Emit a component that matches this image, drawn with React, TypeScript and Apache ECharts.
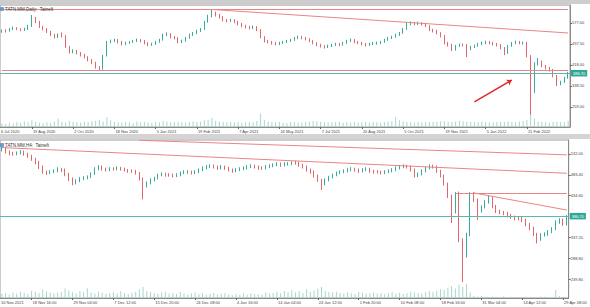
import React, { useEffect, useRef } from "react";
import * as echarts from "echarts";

const FONT = "'Liberation Sans', Arial, sans-serif";
const BULL = "#35ad9c";
const BEAR = "#e2676a";
const LINE_RED = "#e98585";
const CUR = "#5bb8ac";
const VOL = "#a3d8cf";

// ---------- Top panel (Daily) ----------
const topTitle = "TATN.MM,Daily:  Tatneft";
const topTickLabels = ["19 Aug 2020", "2 Oct 2020", "18 Nov 2020", "5 Jan 2021", "19 Feb 2021", "7 Apr 2021", "24 May 2021", "7 Jul 2021", "20 Aug 2021", "5 Oct 2021", "19 Nov 2021", "5 Jan 2022", "21 Feb 2022"];
const topFirstLabel = "6 Jul 2020";
const topPriceTicks = [259, 338.5, 418, 497.5, 577];
// [open, close, low, high]
const topCandles = [
  [545,547,540,552],[548,547,541,553],[547,554,544,558],[554,558,550,563],[558,554,550,561],
  [554,551,546,557],[551,554,547,559],[554,566,551,570],[566,596,562,607],[596,581,576,600],
  [581,562,558,585],[562,554,549,566],[554,543,539,558],[543,532,527,547],[532,524,518,536],
  [524,532,520,537],[532,528,522,541],[528,486,482,531],[486,467,461,490],[467,471,462,477],
  [471,463,458,475],[463,456,450,467],[456,448,443,460],[448,437,432,451],[437,426,421,440],
  [426,410,404,430],[410,403,397,414],[403,452,400,456],[452,505,450,509],[505,509,500,514],
  [509,513,505,518],[513,505,500,516],[505,497,492,509],[497,501,493,506],[501,505,497,509],
  [505,509,501,513],[509,513,505,518],[513,509,504,516],[509,501,496,512],[501,494,489,504],
  [494,497,490,502],[497,505,494,509],[505,513,502,517],[513,532,510,536],[532,535,527,541],
  [535,524,519,538],[524,520,515,528],[520,505,500,523],[505,509,501,514],[509,520,506,524],
  [520,532,517,536],[532,539,528,543],[539,547,535,551],[547,554,543,558],[554,581,551,585],
  [581,603,578,608],[603,615,598,628],[615,607,601,620],[607,600,594,611],[600,588,583,603],
  [588,585,579,592],[585,588,581,593],[588,581,576,591],[581,573,568,585],[573,566,561,577],
  [566,562,556,570],[562,558,552,566],[558,562,554,567],[562,551,546,565],[551,524,519,554],
  [524,509,503,527],[509,505,500,513],[505,501,495,509],[501,497,492,505],[497,501,493,506],
  [501,505,497,509],[505,509,501,513],[509,513,505,517],[513,520,509,524],[520,524,516,529],
  [524,520,515,528],[520,516,511,524],[516,509,504,519],[509,501,496,512],[501,494,489,504],
  [494,490,484,498],[490,486,480,493],[486,490,482,495],[490,494,486,498],[494,497,490,502],
  [497,494,489,501],[494,501,491,505],[501,509,498,513],[509,513,505,518],[513,505,500,516],
  [505,501,496,509],[501,497,492,505],[497,494,488,501],[494,497,490,502],[497,501,493,505],
  [500,501,495,506],[501,505,497,509],[505,513,502,517],[513,520,509,524],[520,524,516,528],
  [524,532,521,536],[532,539,528,543],[539,554,536,558],[554,573,551,578],[573,577,568,583],
  [577,573,568,581],[573,577,569,582],[577,573,567,580],[573,566,561,577],[566,551,546,569],
  [551,547,541,555],[547,539,534,551],[539,528,522,542],[528,501,496,531],[501,494,488,505],
  [494,475,470,498],[475,490,472,494],[490,494,486,499],[495,494,488,499],[494,478,448,497],
  [478,486,474,490],[486,490,482,495],[490,497,487,502],[497,501,493,506],[501,505,497,510],
  [505,501,496,509],[501,497,492,505],[497,494,488,501],[494,482,477,497],[482,463,455,486],
  [463,490,460,494],[490,501,487,505],[501,505,497,510],[505,501,496,509],[500,501,495,506],
  [501,452,447,505],[452,342,229,455],[330,422,312,428],[422,429,416,444],[429,414,409,434],
  [414,407,401,418],[407,399,393,411],[399,376,371,403],[376,346,338,380],[346,353,341,358],
  [353,369,350,373],[369,388,366,392],
];
const topVolumes = [
  30,25,35,28,40,32,45,38,55,42, 35,30,38,33,45,70,40,36,50,42,
  38,35,44,40,48,52,60,45,80,55, 42,38,34,40,36,30,45,38,42,35,
  33,40,38,52,45,36,40,44,38,35, 42,48,40,45,55,60,75,50,45,40,
  38,42,36,40,35,38,42,36,50,110, 60,45,40,38,42,35,33,40,38,36,
  34,40,45,50,48,44,40,38,36,42, 40,35,38,36,40,34,38,42,36,40,
  38,35,42,45,50,80,55,48,40,38, 35,40,36,38,42,40,45,48,50,44,
  40,46,52,48,45,40,38,42,45,40, 38,36,40,44,42,48,40,38,45,50,
  55,120,70,45,40,38,35,40,45,42, 38,50,
];
// trend lines: [startIndex, startPrice, endIndex, endPrice]
const topLines = [
  [0, 630, 151, 630],
  [56, 628, 151, 539],
  [0, 397, 151, 397],
];
const topArrow = [126, 278, 136, 361];

// ---------- Bottom panel (H4) ----------
const bottomTitle = "TATN.MM,H4:  Tatneft";
const bottomTickLabels = ["18 Nov 16:00", "29 Nov 04:00", "7 Dec 12:00", "15 Dec 20:00", "24 Dec 08:00", "4 Jan 16:00", "14 Jan 04:00", "24 Jan 12:00", "1 Feb 20:00", "10 Feb 08:00", "18 Feb 16:00", "31 Mar 04:00", "14 Apr 12:00", "29 Apr 08:00"];
const bottomFirstLabel = "10 Nov 2021";
const bottomPriceTicks = [239.8, 288.8, 337.2, 434.6, 483.4, 532];
const bottomCandles = [
  [541,546,538,550],[546,537,533,549],[537,534,529,540],[534,532,528,537],[532,534,529,538],
  [534,537,531,541],[537,532,528,540],[532,527,523,535],[527,520,516,530],[520,513,508,523],
  [513,502,497,516],[502,490,486,505],[490,488,483,493],[488,490,485,494],[490,492,487,496],
  [492,497,489,501],[497,495,490,499],[495,485,480,498],[485,474,469,488],[474,464,459,477],
  [464,469,461,473],[469,474,466,478],[474,476,471,480],[476,478,473,482],[478,485,476,489],
  [485,497,483,501],[497,502,494,506],[502,497,493,505],[497,495,491,500],[495,497,492,501],
  [498,497,493,501],[497,499,494,503],[499,497,493,502],[497,495,491,500],[495,492,488,497],
  [493,492,488,496],[492,488,484,495],[488,474,470,490],[474,457,426,477],[457,464,454,468],
  [464,471,461,475],[471,476,468,479],[476,483,473,486],[483,485,480,489],[485,483,479,488],
  [484,483,479,487],[483,481,477,486],[481,483,478,487],[483,488,480,491],[488,490,485,494],
  [489,490,486,494],[490,488,484,493],[488,490,485,494],[490,495,487,498],[495,499,492,503],
  [499,502,496,506],[502,504,499,508],[504,502,498,507],[502,499,495,505],[499,502,496,506],
  [502,499,495,505],[499,495,491,502],[495,492,488,498],[492,495,489,499],[495,497,492,501],
  [497,499,494,503],[499,502,496,506],[502,504,499,508],[504,502,498,507],[502,499,495,505],
  [500,499,495,503],[499,502,496,506],[502,504,499,508],[504,506,501,510],[506,509,503,513],
  [509,506,502,512],[506,509,503,513],[508,509,505,513],[509,511,506,515],[512,511,507,516],
  [511,506,502,514],[506,502,498,509],[502,495,491,505],[495,490,486,498],[490,481,477,493],
  [481,471,467,484],[471,462,448,474],[462,471,459,475],[471,478,468,481],[478,483,475,486],
  [483,488,480,491],[488,490,485,494],[490,492,487,496],[492,495,489,499],[495,497,492,501],
  [497,495,491,500],[495,492,488,498],[492,495,489,499],[495,497,492,501],[497,492,488,500],
  [492,490,486,495],[491,490,486,494],[490,488,484,493],[488,490,485,494],[490,492,487,496],
  [492,495,489,499],[495,499,492,503],[499,502,496,506],[502,504,499,508],[504,502,498,507],
  [502,495,491,505],[495,481,477,498],[481,485,478,489],[485,492,482,496],[492,499,489,503],
  [499,504,496,508],[504,502,498,507],[502,492,488,505],[492,481,477,495],[481,462,458,484],
  [462,434,429,465],[434,396,371,437],[396,441,393,443],[441,331,326,444],[331,296,233,335],
  [296,343,290,348],[343,439,340,443],[439,425,420,443],[425,399,378,428],[399,408,395,412],
  [408,420,405,424],[420,429,416,436],[429,410,405,432],[410,399,394,413],[399,396,391,402],
  [396,394,389,399],[394,389,384,397],[389,385,380,392],[385,382,377,388],[383,382,377,386],
  [382,378,373,385],[378,368,363,381],[368,359,354,371],[359,345,340,362],[345,333,323,348],
  [333,343,329,347],[343,345,339,349],[345,350,341,354],[350,357,347,361],[357,373,354,377],
  [373,378,369,382],[378,368,364,381],[368,385,365,389],
];
const bottomVolumes = [
  25,30,22,35,28,40,33,26,45,38, 30,55,42,35,28,33,40,60,48,36,
  30,45,38,62,35,28,40,33,25,30, 36,28,42,30,25,33,40,55,70,45,
  38,30,26,35,40,28,32,25,38,30, 22,28,35,25,30,20,26,32,24,28,
  30,22,18,25,20,28,22,30,26,24, 20,35,28,32,40,30,45,38,50,36,
  42,30,55,40,48,60,70,45,38,35, 40,32,28,36,30,25,38,33,28,30,
  35,28,32,25,30,38,28,34,26,30, 40,35,32,28,36,42,38,45,55,50,
  65,75,60,85,70,90,35,15,10,12, 8,6,10,8,7,9,6,8,7,5,
  6,8,5,7,6,9,8,6,7,50, 12,8,6,
];
const bottomLines = [
  [37, 564, 152, 530],
  [0, 547, 152, 487],
  [122, 441, 152, 441],
  [127, 441, 152, 401],
];

const currentPrice = 386.7;
const firstTickIndex = 8;
const tickStep = 11;

function labelMap(labels: string[]) {
  const m: Record<number, string> = {};
  labels.forEach((l, k) => { m[firstTickIndex + k * tickStep] = l; });
  return m;
}

function makeXAxis(gridIndex: number, n: number, labels: string[]) {
  const m = labelMap(labels);
  const cats = Array.from({ length: n }, (_, i) => String(i));
  const show = (idx: number) => m[idx] !== undefined;
  return {
    type: "category",
    gridIndex,
    data: cats,
    boundaryGap: true,
    axisLine: { show: true, lineStyle: { color: "#8a8a8a", width: 1 } },
    axisTick: { show: true, alignWithLabel: true, interval: (i: number) => show(i), length: 2, lineStyle: { color: "#666" } },
    axisLabel: {
      show: true, interval: (i: number) => show(i), formatter: (_v: string, i: number) => m[i] ?? "",
      align: "left", fontSize: 4, color: "#444", margin: 2, fontFamily: FONT, padding: [0, 0, 0, 1],
    },
    splitLine: { show: false },
  };
}

function makePriceAxis(gridIndex: number, min: number, max: number, ticks: number[]) {
  return {
    type: "value", gridIndex, position: "right", min, max, scale: true,
    axisLine: { show: true, lineStyle: { color: "#8a8a8a" } },
    axisTick: { show: true, customValues: ticks, length: 2, lineStyle: { color: "#666" } },
    axisLabel: { show: true, customValues: ticks, formatter: (v: number) => v.toFixed(2), fontSize: 4, color: "#444", margin: 2, fontFamily: FONT },
    splitLine: { show: false },
  };
}

function volAxis(gridIndex: number) {
  return { type: "value", gridIndex, min: 0, max: 1000, show: false, splitLine: { show: false } };
}

function lineItems(lines: number[][]) {
  return lines.map(([i0, p0, i1, p1]) => [
    { coord: [String(i0), p0], symbol: "none", lineStyle: { color: LINE_RED, width: 1, type: "solid" } },
    { coord: [String(i1), p1], symbol: "none" },
  ]);
}

function currentItem() {
  return {
    yAxis: currentPrice,
    symbol: "none",
    lineStyle: { color: CUR, width: 1, type: "solid" },
    label: {
      show: true, position: "end", formatter: currentPrice.toFixed(2), backgroundColor: "#2fa896",
      color: "#fff", fontSize: 4, padding: [1.5, 2, 1, 2], distance: 1, fontFamily: FONT,
    },
  };
}

function candleSeries(xi: number, yi: number, data: number[][], mark: any[]) {
  return {
    type: "candlestick", xAxisIndex: xi, yAxisIndex: yi, data, barWidth: 1.3,
    itemStyle: { color: BULL, color0: BEAR, borderColor: BULL, borderColor0: BEAR, borderWidth: 1 },
    markLine: { silent: true, symbol: ["none", "none"], label: { show: false }, data: mark, animation: false },
  };
}

function volSeries(xi: number, yi: number, data: number[]) {
  return { type: "bar", xAxisIndex: xi, yAxisIndex: yi, data, barWidth: 1, itemStyle: { color: VOL }, silent: true };
}

const topMarks: any[] = [
  ...lineItems(topLines),
  currentItem(),
  [
    { coord: [String(topArrow[0]), topArrow[1]], symbol: "none", lineStyle: { color: "#e3262b", width: 1.4, type: "solid" } },
    { coord: [String(topArrow[2]), topArrow[3]], symbol: "arrow", symbolSize: 5 },
  ],
];
const bottomMarks: any[] = [...lineItems(bottomLines), currentItem()];

const option: any = {
  animation: false,
  backgroundColor: "#ffffff",
  textStyle: { fontFamily: FONT },
  grid: [
    { left: 0, top: 5, width: 570, height: 122, show: true, borderColor: "#9a9a9a", borderWidth: 1 },
    { left: 0, top: 140, width: 574, height: 158, show: true, borderColor: "#9a9a9a", borderWidth: 1 },
  ],
  xAxis: [makeXAxis(0, topCandles.length, topTickLabels), makeXAxis(1, bottomCandles.length, bottomTickLabels)],
  yAxis: [
    makePriceAxis(0, 183, 645, topPriceTicks), volAxis(0),
    makePriceAxis(1, 195.5, 564.7, bottomPriceTicks), volAxis(1),
  ],
  series: [
    volSeries(0, 1, topVolumes),
    candleSeries(0, 0, topCandles, topMarks),
    volSeries(1, 3, bottomVolumes),
    candleSeries(1, 2, bottomCandles, bottomMarks),
  ],
  graphic: [
    { type: "rect", left: 0, top: 0, shape: { width: 590, height: 4 }, style: { fill: "#cdcdcd" }, z: 10 },
    { type: "rect", left: 0, top: 134, shape: { width: 590, height: 5 }, style: { fill: "#d4d4d4" }, z: 10 },
    { type: "rect", shape: { x: 0.5, y: 7.5, width: 3, height: 3 }, style: { fill: "#6b9bd6", stroke: "#3a6fb0", lineWidth: 0.5 }, z: 10 },
    { type: "text", x: 5, y: 7, style: { text: topTitle, fontSize: 4.5, fill: "#333", fontFamily: FONT }, z: 10 },
    { type: "rect", shape: { x: 0.5, y: 143.5, width: 3, height: 3 }, style: { fill: "#6b9bd6", stroke: "#3a6fb0", lineWidth: 0.5 }, z: 10 },
    { type: "text", x: 5, y: 143, style: { text: bottomTitle, fontSize: 4.5, fill: "#333", fontFamily: FONT }, z: 10 },
    { type: "text", x: 1, y: 129.5, style: { text: topFirstLabel, fontSize: 4, fill: "#444", fontFamily: FONT }, z: 10 },
    { type: "text", x: 1, y: 300.5, style: { text: bottomFirstLabel, fontSize: 4, fill: "#444", fontFamily: FONT }, z: 10 },
  ],
};

export default function App() {
  const ref = useRef<HTMLDivElement>(null);
  useEffect(() => {
    const chart = echarts.init(ref.current!, null, { renderer: "svg" });
    chart.setOption(option);
    return () => chart.dispose();
  }, []);
  return <div ref={ref} style={{ position: "fixed", left: 0, top: 0, width: 590, height: 307, background: "#fff" }} />;
}
